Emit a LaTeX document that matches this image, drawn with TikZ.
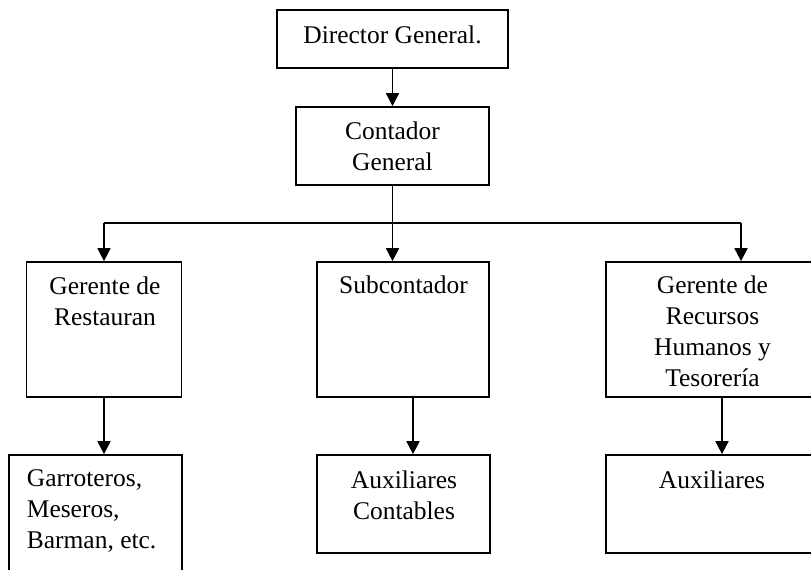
\documentclass[tikz,border=0pt]{standalone}
\usepackage{fontspec}
\setmainfont{Liberation Serif}
\usetikzlibrary{arrows.meta}
\begin{document}
\begin{tikzpicture}[x=0.02cm, y=-0.02cm, line width=1pt,
    every node/.style={font=\fontsize{14.5}{17.6}\selectfont},
    caja/.style={draw, rectangle, inner sep=0pt},
    txt/.style={inner sep=0pt, align=center},
    flecha/.style={-{Triangle[length=7.4pt, width=7.4pt]}}]
    \useasboundingbox (0,0) rectangle (811,569);
    \clip (0,0) rectangle (811,569);
    \node[caja, minimum width=4.62cm, minimum height=1.16cm, text depth=4.6pt] (DG) at (392.5,39) {Director General.};
    \node[caja, minimum width=3.86cm, minimum height=1.56cm, align=center] (CG) at (392.5,146) {Contador\\General};
    \node[caja, minimum width=3.1cm, minimum height=2.7cm] (GR) at (104,329.5) {};
    \node[caja, minimum width=3.44cm, minimum height=2.7cm] (SC) at (403,329.5) {};
    \node[caja, minimum width=4.24cm, minimum height=2.7cm] (GH) at (712,329.5) {};
    \node[caja, minimum width=3.46cm, minimum height=2.7cm] (GM) at (95.5,522.5) {};
    \node[caja, minimum width=3.46cm, minimum height=1.96cm] (AC) at (403.5,504) {};
    \node[caja, minimum width=4.24cm, minimum height=1.96cm] (AX) at (712,504) {};

    \node[txt] (tGR) at (105,301) {Gerente de\\Restauran};
    \node[txt] (tSC) at (403.5,285) {Subcontador};
    \node[txt] (tGH) at (712.5,331) {Gerente de\\Recursos\\Humanos y\\Tesorería};
    \node[txt, align=left, anchor=west] (tGM) at (26,511) {Garroteros,\\Meseros,\\Barman, etc.};
    \node[txt] (tAC) at (404,495) {Auxiliares\\Contables};
    \node[txt] (tAX) at (712,480) {Auxiliares};

    \coordinate (BL) at (104,223);
    \coordinate (BR) at (741,223);
    \draw[flecha] (DG) -- (CG);
    \draw (BL) -- (BR);
    \draw[flecha] (CG) -- (CG |- SC.north);
    \draw[flecha] (BL) -- (BL |- GR.north);
    \draw[flecha] (BR) -- (BR |- GH.north);
    \draw[flecha] (GR) -- (GR |- GM.north);
    \draw[flecha] ([xshift=0.2cm]SC.south) -- ([xshift=0.2cm]SC.south |- AC.north);
    \draw[flecha] ([xshift=0.2cm]GH.south) -- ([xshift=0.2cm]GH.south |- AX.north);
\end{tikzpicture}
\end{document}
